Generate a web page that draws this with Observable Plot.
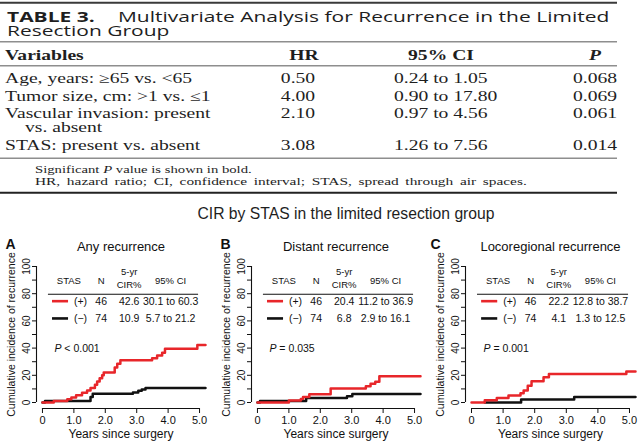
<!DOCTYPE html>
<html>
<head>
<meta charset="utf-8">
<script src="https://cdn.jsdelivr.net/npm/d3@7"></script>
<script src="https://cdn.jsdelivr.net/npm/@observablehq/plot@0.6"></script>
<style>
html,body{margin:0;padding:0;background:#fff;}
#page{position:relative;width:640px;height:443px;overflow:hidden;background:#fff;}
#top{position:absolute;left:0;top:0;}
.panel{position:absolute;top:225px;}
</style>
</head>
<body>
<div id="page"><svg id="top" width="640" height="225"></svg></div>
<script>
// ================= DATA =================
// Table
const tableLabel = "TABLE 3.";
const tableTitleLine1 = "Multivariate Analysis for Recurrence in the Limited";
const tableTitleLine2 = "Resection Group";
const colHeaders = ["Variables", "HR", "95% CI", "P"];
const variables = [
  ["Age, years: ≥65 vs. <65"],
  ["Tumor size, cm: >1 vs. ≤1"],
  ["Vascular invasion: present", "vs. absent"],
  ["STAS: present vs. absent"]
];
const hrValues = ["0.50", "4.00", "2.10", "3.08"];
const ciValues = ["0.24 to 1.05", "0.90 to 17.80", "0.97 to 4.56", "1.26 to 7.56"];
const pValues = ["0.068", "0.069", "0.061", "0.014"];
const footnote1 = ["Significant ", "P", " value is shown in bold."];
const footnote2 = "HR, hazard ratio; CI, confidence interval; STAS, spread through air spaces.";
const figureTitle = "CIR by STAS in the limited resection group";

// Panels
const panelLetters = ["A", "B", "C"];
const panelTitles = ["Any recurrence", "Distant recurrence", "Locoregional recurrence"];
const insetHeaders = ["STAS", "N", "5-yr", "CIR%", "95% CI"];
const groupLabels = ["(+)", "(−)"];
const groupN = ["46", "74"];
const cir5yr = [["42.6", "10.9"], ["20.4", "6.8"], ["22.2", "4.1"]];
const ci95 = [["30.1 to 60.3", "5.7 to 21.2"], ["11.2 to 36.9", "2.9 to 16.1"], ["12.8 to 38.7", "1.3 to 12.5"]];
const pTexts = ["P < 0.001", "P = 0.035", "P = 0.001"];
const xAxisLabel = "Years since surgery";
const yAxisLabel = "Cumulative incidence of recurrence";
const xTicks = [0, 1, 2, 3, 4, 5];
const yTicks = [0, 10, 20, 30, 40, 50, 60, 70, 80, 90, 100];

// Step curves (years, cumulative incidence %)
const anyPosT = [0, 0.36, 0.79, 0.92, 1.07, 1.26, 1.42, 1.53, 1.67, 1.74, 1.82, 1.90, 1.95, 2.30, 2.38, 2.48, 3.49, 3.65, 3.81, 3.90, 4.93, 5.19];
const anyPosV = [0, 1.2, 2.4, 3.6, 5.4, 7.1, 8.8, 10.6, 13.0, 15.4, 17.8, 20.0, 22.0, 25.8, 28.5, 31.0, 32.5, 34.5, 36.5, 39.6, 42.2, 42.2];
const anyNegT = [0, 0.08, 1.53, 1.60, 2.88, 3.05, 3.16, 3.28, 5.19];
const anyNegV = [0, 1.2, 4.0, 6.5, 7.3, 8.6, 9.5, 10.6, 10.6];
const distPosT = [0, 1.0, 1.38, 1.45, 1.65, 2.33, 3.45, 3.60, 3.75, 3.88, 5.19];
const distPosV = [0, 1.5, 2.6, 4.0, 6.0, 10.3, 12.0, 13.8, 15.3, 19.3, 19.3];
const distNegT = [0, 0.08, 1.55, 2.85, 3.02, 5.19];
const distNegV = [0, 1.2, 3.4, 4.6, 6.2, 6.2];
const locoPosT = [0, 0.42, 0.80, 1.17, 1.55, 1.65, 1.78, 1.90, 2.28, 2.45, 4.90, 5.19];
const locoPosV = [0, 1.7, 3.3, 5.1, 6.9, 8.8, 12.4, 15.7, 18.5, 20.9, 22.8, 22.8];
const locoNegT = [0.42, 1.57, 3.25, 5.19];
const locoNegV = [0, 2.3, 4.0, 4.0];

// ================= LAYOUT / STYLE =================
const S = 1.4; // horizontal stretch of the table block
const serif = '"Liberation Serif","Times New Roman",serif';
const sansT = '"Open Sans","Noto Sans",sans-serif';
const arial = '"Liberation Sans",Arial,Helvetica,sans-serif';
const ink = "#1e1e1e";
const red = "#e8262a";
const black = "#111111";

// ================= TABLE =================
const svg = d3.select("#top");
const rules = [
  {y: 2.7, w: 2, c: "#3a3a3a"},
  {y: 41.7, w: 1.4, c: "#8e8e8e"},
  {y: 65.7, w: 1.4, c: "#8e8e8e"},
  {y: 158.3, w: 1.4, c: "#8e8e8e"},
  {y: 192.7, w: 2, c: "#222"}
];
svg.selectAll("line.rule").data(rules).join("line")
  .attr("class", "rule")
  .attr("x1", 0).attr("x2", 617)
  .attr("y1", d => d.y).attr("y2", d => d.y)
  .attr("stroke", d => d.c).attr("stroke-width", d => d.w);

const g = svg.append("g").attr("transform", `scale(${S},1)`).attr("fill", ink);
function T(str, px, y, {font = serif, size = 14, weight = "normal", style = "normal", anchor = "start", wordSpacing = 0} = {}) {
  return g.append("text").attr("x", px / S).attr("y", y)
    .attr("font-family", font).attr("font-size", size)
    .attr("font-weight", weight).attr("font-style", style)
    .attr("word-spacing", wordSpacing)
    .attr("text-anchor", anchor).text(str);
}
// title: one text element, two lines
const title = g.append("text").attr("font-family", sansT).attr("font-size", 15);
title.append("tspan").attr("x", 7 / S).attr("y", 21.7).attr("font-weight", "bold").text(tableLabel);
title.append("tspan").attr("x", 118 / S).attr("y", 21.7).text(tableTitleLine1);
title.append("tspan").attr("x", 7 / S).attr("y", 35.7).text(tableTitleLine2);

const headX = [5, 304, 441, 595];
const headAnchor = ["start", "middle", "middle", "middle"];
colHeaders.forEach((h, i) => T(h, headX[i], 60, {weight: "bold", anchor: headAnchor[i], style: i === 3 ? "italic" : "normal"}));

const rowY = [83.3, 100.8, 118.3, 150];
const wrapDy = 13.4;
variables.forEach((lines, i) => {
  const t = g.append("text").attr("font-family", serif).attr("font-size", 14);
  lines.forEach((ln, j) => t.append("tspan").attr("x", (j === 0 ? 5 : 25) / S).attr("y", rowY[i] + j * wrapDy).text(ln));
  T(hrValues[i], 298, rowY[i], {anchor: "middle"});
  T(ciValues[i], 394, rowY[i]);
  T(pValues[i], 595, rowY[i], {anchor: "middle"});
});

const fn1 = g.append("text").attr("x", 35 / S).attr("y", 173.3)
  .attr("font-family", serif).attr("font-size", 10.5);
footnote1.forEach((s, i) => fn1.append("tspan").attr("font-style", i === 1 ? "italic" : "normal").text(s));
T(footnote2, 35, 185.3, {size: 11, wordSpacing: 2});

svg.append("text").attr("x", 346).attr("y", 219.3)
  .attr("text-anchor", "middle").attr("font-family", arial)
  .attr("font-size", 15.7).attr("fill", ink).text(figureTitle);

// ================= PANELS =================
const curves = [
  [anyPosT, anyPosV, anyNegT, anyNegV],
  [distPosT, distPosV, distNegT, distNegV],
  [locoPosT, locoPosV, locoNegT, locoNegV]
];
const toRows = (t, v) => t.map((d, i) => ({t: d, v: v[i]}));
const xDomain = [-0.19, 5.19];
const yDomain = [-4.4, 104.4];
const panelLeft = [0, 215, 425];
const panelMarginLeft = [36, 36, 40];
const panelMarginRight = [10, 10, 5];
const ins = {stas: 0.84, n: 1.87, cir: 2.76, ci: 4.08, grp: 1.21,
  headY: 87, yrY: 93.4, cirHeadY: 84.2, ruleY: 79.6, ruleX: [0.19, 4.97],
  lineY: [74.5, 61.8], textY: [71.5, 59.1], segX: [0.32, 0.83], pX: 0.38, pY: 37.2};

panelLetters.forEach((letter, i) => {
  const [pt, pv, nt, nv] = curves[i];
  const headerRows = [
    {x: ins.stas, y: ins.headY, text: insetHeaders[0]},
    {x: ins.n, y: ins.headY, text: insetHeaders[1]},
    {x: ins.cir, y: ins.yrY, text: insetHeaders[2]},
    {x: ins.cir, y: ins.cirHeadY, text: insetHeaders[3]},
    {x: ins.ci, y: ins.headY, text: insetHeaders[4]}
  ];
  const bodyRows = [];
  [0, 1].forEach(r => {
    bodyRows.push({x: ins.grp, y: ins.textY[r], text: groupLabels[r]});
    bodyRows.push({x: ins.n, y: ins.textY[r], text: groupN[r]});
    bodyRows.push({x: ins.cir, y: ins.textY[r], text: cir5yr[i][r]});
    bodyRows.push({x: ins.ci, y: ins.textY[r], text: ci95[i][r]});
  });
  const plot = Plot.plot({
    width: 215, height: 218,
    marginLeft: panelMarginLeft[i], marginRight: panelMarginRight[i],
    marginTop: 35, marginBottom: 35,
    x: {domain: xDomain},
    y: {domain: yDomain},
    style: {fontFamily: arial, fontSize: "10px", color: black, background: "none", overflow: "visible"},
    marks: [
      Plot.ruleX([xDomain[0]], {y1: yTicks[0], y2: yTicks[yTicks.length - 1], stroke: black, strokeWidth: 1.1}),
      Plot.ruleY([yDomain[0]], {x1: xTicks[0], x2: xTicks[xTicks.length - 1], stroke: black, strokeWidth: 1.1}),
      Plot.axisX({ticks: xTicks, tickSize: 5, tickPadding: 3, fontSize: 11,
        tickFormat: d => d === 0 ? "0" : d.toFixed(1)}),
      Plot.axisY({ticks: yTicks, tickSize: 4, tickPadding: 3, tickRotate: -90, fontSize: 10,
        tickFormat: d => d % 20 === 0 ? String(d) : ""}),
      Plot.text([xAxisLabel], {frameAnchor: "bottom", dy: 29, lineAnchor: "bottom", fontSize: 12}),
      Plot.text([yAxisLabel], {frameAnchor: "left", textAnchor: "middle", rotate: -90, dx: -22, lineAnchor: "bottom", fontSize: 10.5}),
      Plot.text([letter], {frameAnchor: "top-left", dx: 5 - panelMarginLeft[i], dy: -12, lineAnchor: "bottom", textAnchor: "start", fontSize: 14, fontWeight: "bold"}),
      Plot.text([panelTitles[i]], {frameAnchor: "top", dy: -10, lineAnchor: "bottom", fontSize: 13}),
      Plot.text(headerRows, {x: "x", y: "y", text: "text", lineAnchor: "bottom", fontSize: 9.5}),
      Plot.ruleY([ins.ruleY], {x1: ins.ruleX[0], x2: ins.ruleX[1], stroke: black, strokeWidth: 1.1}),
      Plot.ruleY([ins.lineY[0]], {x1: ins.segX[0], x2: ins.segX[1], stroke: red, strokeWidth: 2.6}),
      Plot.ruleY([ins.lineY[1]], {x1: ins.segX[0], x2: ins.segX[1], stroke: black, strokeWidth: 2.6}),
      Plot.text(bodyRows, {x: "x", y: "y", text: "text", lineAnchor: "bottom", fontSize: 10.5}),
      Plot.text([pTexts[i]], {x: ins.pX, y: ins.pY, textAnchor: "start", lineAnchor: "bottom", fontSize: 10.5}),
      Plot.line(toRows(nt, nv), {x: "t", y: "v", curve: "step-after", stroke: black, strokeWidth: 2.5}),
      Plot.line(toRows(pt, pv), {x: "t", y: "v", curve: "step-after", stroke: red, strokeWidth: 2.5})
    ]
  });
  // italic P and cleanup of empty tick labels
  plot.querySelectorAll("text").forEach(t => {
    const s = t.textContent;
    if (!s.trim()) { t.remove(); return; }
    if (pTexts.includes(s)) {
      t.textContent = "";
      const ns = "http://www.w3.org/2000/svg";
      const a = document.createElementNS(ns, "tspan");
      a.setAttribute("font-style", "italic"); a.textContent = "P";
      const b = document.createElementNS(ns, "tspan");
      b.textContent = s.slice(1);
      t.appendChild(a); t.appendChild(b);
    }
  });
  const div = document.createElement("div");
  div.className = "panel";
  div.style.left = panelLeft[i] + "px";
  div.appendChild(plot);
  document.getElementById("page").appendChild(div);
});
</script>
</body>
</html>
